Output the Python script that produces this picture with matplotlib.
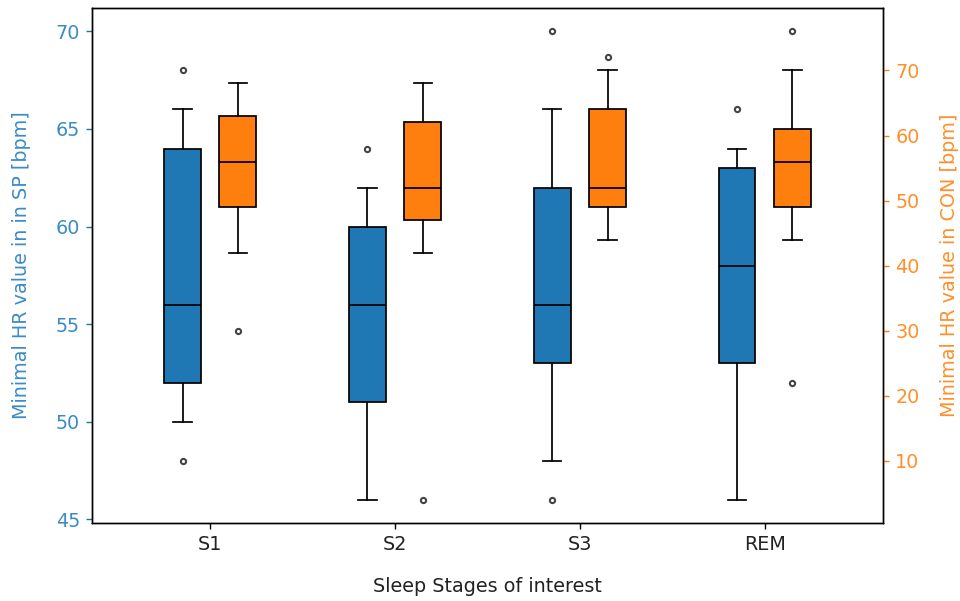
import numpy as np
import matplotlib.pyplot as plt

plt.rcParams['font.size'] = 11

stages = ["S1", "S2", "S3", "REM"]

# SP group (left axis) - whisker low, Q1, median, Q3, whisker high, outliers
sp_whislo = [50, 46, 48, 46]
sp_q1 = [52, 51, 53, 53]
sp_med = [56, 56, 56, 58]
sp_q3 = [64, 60, 62, 63]
sp_whishi = [66, 62, 66, 64]
sp_fliers = [[48, 68], [64], [46, 70], [66]]

# CON group (right axis)
con_whislo = [42, 42, 44, 44]
con_q1 = [49, 47, 49, 49]
con_med = [56, 52, 52, 56]
con_q3 = [63, 62, 64, 61]
con_whishi = [68, 68, 70, 70]
con_fliers = [[30], [4], [72], [22, 76]]


def make_stats(lo, q1, med, q3, hi, fl):
    stats = []
    for i in range(len(lo)):
        stats.append(dict(whislo=lo[i], q1=q1[i], med=med[i], q3=q3[i],
                          whishi=hi[i], fliers=fl[i]))
    return stats


fig = plt.figure(figsize=(7.68, 4.808), dpi=125)
ax = fig.add_axes([0.0958, 0.1294, 0.8240, 0.8573])
ax2 = ax.twinx()

pos = np.arange(1, len(stages) + 1)
fprops = dict(marker='o', markersize=3, markerfacecolor='white',
              markeredgecolor='#444444', markeredgewidth=1.2)

b1 = ax.bxp(make_stats(sp_whislo, sp_q1, sp_med, sp_q3, sp_whishi, sp_fliers),
            positions=pos - 0.15, widths=0.2, patch_artist=True,
            flierprops=fprops, medianprops=dict(color='black'), manage_ticks=False)
b2 = ax2.bxp(make_stats(con_whislo, con_q1, con_med, con_q3, con_whishi, con_fliers),
             positions=pos + 0.15, widths=0.2, patch_artist=True,
             flierprops=fprops, medianprops=dict(color='black'), manage_ticks=False)

for p in b1['boxes']:
    p.set_facecolor('tab:blue')
for p in b2['boxes']:
    p.set_facecolor('tab:orange')

ax.set_ylim(44.8, 71.2)
ax2.set_ylim(0.4, 79.6)
ax.set_yticks([45, 50, 55, 60, 65, 70])
ax2.set_yticks([10, 20, 30, 40, 50, 60, 70])
ax.set_xlim(0.36, 4.64)
ax.set_xticks(pos)
ax.set_xticklabels(stages)

ax.set_ylabel("Minimal HR value in in SP [bpm]", color='#3a8cc6', labelpad=14)
ax2.set_ylabel("Minimal HR value in CON [bpm]", color='#ff8f2a', labelpad=12)
ax.tick_params(axis='y', colors='tab:blue', labelcolor='#3a8cc6')
ax2.tick_params(axis='y', colors='tab:orange', labelcolor='#ff8f2a')
ax.tick_params(axis='x', labelcolor='#222222')
ax.set_xlabel("Sleep Stages of interest", labelpad=13, color='#222222')

fig.savefig("out.png", dpi=125)
